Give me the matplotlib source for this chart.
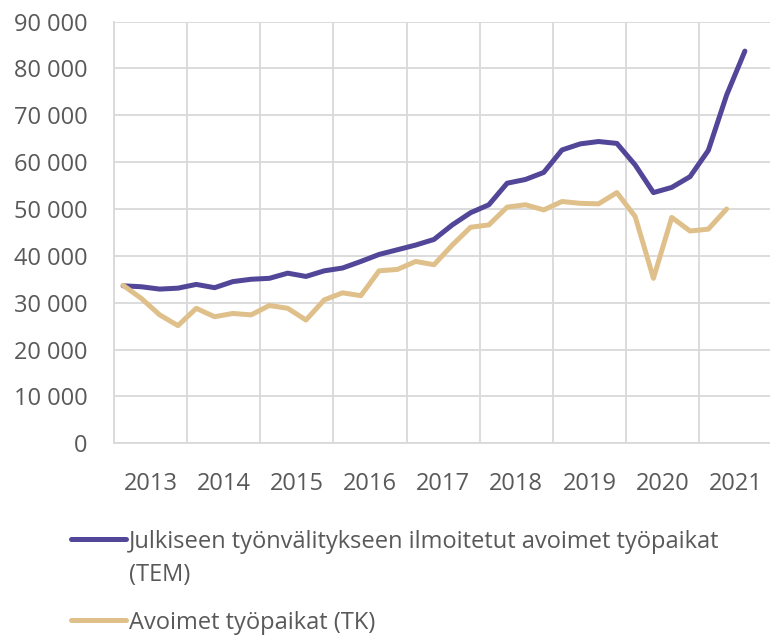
import numpy as np
import matplotlib.pyplot as plt
from matplotlib.lines import Line2D
from matplotlib.ticker import FuncFormatter, FixedLocator

years = ['2013', '2014', '2015', '2016', '2017', '2018', '2019', '2020', '2021']

# quarterly values, 2013Q1 ->
tem = [33600, 33400, 32900, 33100, 33900, 33200, 34500, 35000, 35200, 36300,
       35600, 36800, 37400, 38800, 40300, 41300, 42300, 43500, 46600, 49200,
       50900, 55500, 56300, 57800, 62600, 63900, 64400, 64000, 59400, 53500,
       54600, 56900, 62500, 74300, 83700]
tk = [33700, 30900, 27400, 25100, 28800, 27000, 27700, 27400, 29400, 28800,
      26300, 30600, 32100, 31500, 36800, 37100, 38800, 38100, 42300, 46100,
      46600, 50400, 50900, 49800, 51600, 51200, 51100, 53500, 48400, 35200,
      48200, 45300, 45700, 50000]

label_tem = ['Julkiseen työnvälitykseen ilmoitetut avoimet työpaikat', '(TEM)']
label_tk = ['Avoimet työpaikat (TK)']

c_tem = '#524698'
c_tk = '#dfc08b'
txt = '#595959'

plt.rcParams['font.family'] = ['Open Sans', 'DejaVu Sans']

fig = plt.figure(figsize=(7.7, 6.35), dpi=100)
ax = fig.add_axes([0.148, 0.302, 0.855, 0.664])

x_tem = np.arange(len(tem)) + 0.5
x_tk = np.arange(len(tk)) + 0.5
ax.plot(x_tem, tem, color=c_tem, lw=3.6, solid_capstyle='round')
ax.plot(x_tk, tk, color=c_tk, lw=3.6, solid_capstyle='round')

ax.set_xlim(0, 4 * len(years))
ax.set_ylim(0, 90000)
ax.yaxis.set_major_locator(FixedLocator(np.arange(0, 90001, 10000)))
ax.yaxis.set_major_formatter(FuncFormatter(lambda v, p: f'{v:,.0f}'.replace(',', ' ')))
ax.xaxis.set_major_locator(FixedLocator(np.arange(0, 4 * len(years) + 1, 4)))
ax.xaxis.set_minor_locator(FixedLocator(np.arange(2, 4 * len(years), 4)))
ax.set_xticklabels([], minor=False)
ax.set_xticklabels(years, minor=True)

ax.grid(True, color='#d9d9d9', lw=1.3)
ax.set_axisbelow(True)
for s in ['top', 'right']:
    ax.spines[s].set_visible(False)
for s in ['left', 'bottom']:
    ax.spines[s].set_color('#d9d9d9')
    ax.spines[s].set_linewidth(1.3)

ax.tick_params(axis='both', which='both', length=0, colors=txt, labelsize=17)
ax.tick_params(axis='y', pad=19)
ax.tick_params(axis='x', which='minor', pad=21)

# legend, drawn by hand so the handle sits on the first text line
H = 635.0
W = 770.0
for color, lines, y0 in [(c_tem, label_tem, 548), (c_tk, label_tk, 629)]:
    fig.add_artist(Line2D([71 / W, 126 / W], [1 - (y0 - 9) / H] * 2,
                          color=color, lw=3.6, solid_capstyle='round'))
    for k, line in enumerate(lines):
        fig.text(129 / W, 1 - (y0 + 33 * k) / H, line, fontsize=17,
                 color=txt, va='baseline', ha='left')

fig.savefig('out.png', dpi=100)
